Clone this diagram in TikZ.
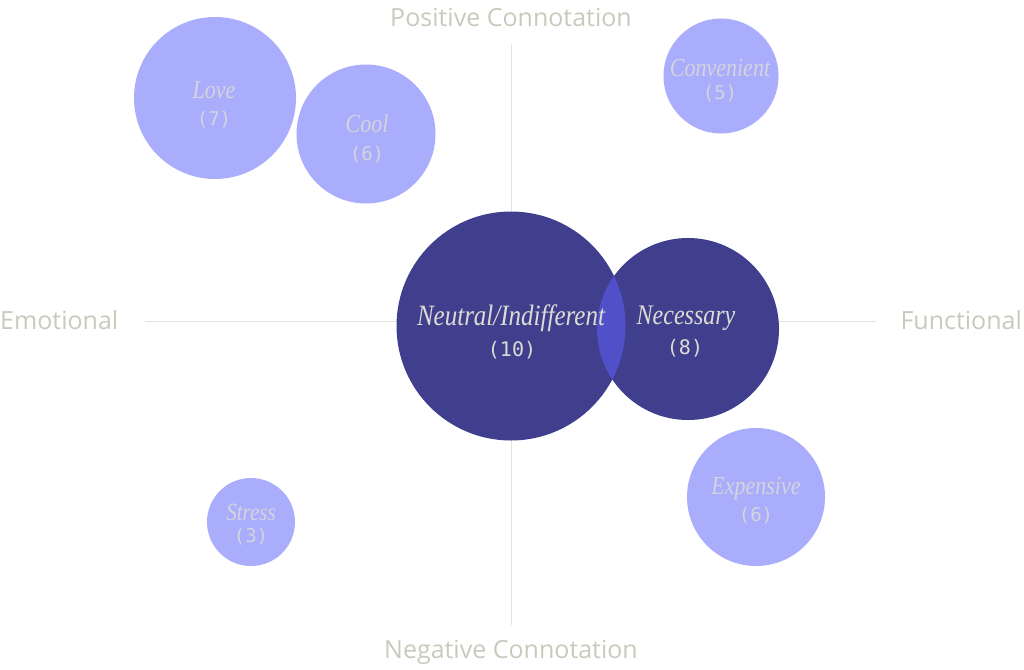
\documentclass[tikz,border=0pt]{standalone}
\usepackage{fontspec}
\setmainfont{Liberation Serif}
\setsansfont{Open Sans}
\setmonofont{DejaVu Sans Mono}
\definecolor{axis}{HTML}{E3E3DE}
\definecolor{axislabel}{HTML}{C9C9BD}
\definecolor{dark}{HTML}{403F8E}
\definecolor{lens}{HTML}{5150C9}
\definecolor{light}{HTML}{AAADFC}
\definecolor{textdark}{HTML}{DCDCD4}
\definecolor{textlight}{HTML}{D4D4DC}
\newcommand{\tall}[1]{\scalebox{1}[1.18]{#1}}
\tikzset{
  bubble/.style={circle, inner sep=0pt, draw=none},
  darkbub/.style={bubble, fill=dark},
  lightbub/.style={bubble, fill=light},
  axisline/.style={draw=axis, line width=1pt},
  axislbl/.style={text=axislabel, font=\sffamily\fontsize{25}{28}\selectfont, inner sep=0pt},
  titlelight/.style={text=textlight, font=\itshape\fontsize{22}{24}\selectfont, inner sep=0pt},
  titledark/.style={text=textdark, font=\itshape\fontsize{25}{28}\selectfont, inner sep=0pt},
  numlight/.style={text=textlight, font=\ttfamily\fontsize{19}{21}\selectfont, inner sep=0pt},
  numdark/.style={text=textdark, font=\ttfamily\fontsize{20}{22}\selectfont, inner sep=0pt},
}
\begin{document}
\begin{tikzpicture}[x=1pt,y=-1pt]
\useasboundingbox (0,0) rectangle (1024,669);
% axes
\coordinate (hl) at (145,321);
\coordinate (hr) at (876,321);
\coordinate (vt) at (511,44);
\coordinate (vb) at (511,625);
\draw[axisline] (hl) -- (hr);
\draw[axisline] (vt) -- (vb);
% axis labels
\node[axislbl] (pos) at (511,17) {Positive Connotation};
\node[axislbl] (neg) at (511,652) {Negative Connotation};
\node[axislbl, anchor=west] (emo) at (0,320) {Emotional};
\node[axislbl, anchor=east] (fun) at (1022,320) {Functional};
% bubbles
\node[lightbub, minimum size=162] (love) at (215,98) {};
\node[lightbub, minimum size=139] (cool) at (366,134) {};
\node[lightbub, minimum size=115] (conv) at (721,76) {};
\node[lightbub, minimum size=138] (exp) at (756,497) {};
\node[lightbub, minimum size=88] (stress) at (251,522) {};
\node[darkbub, minimum size=229] (neut) at (511,326) {};
\node[darkbub, minimum size=182] (nec) at (688,329) {};
\begin{scope}
  \clip (511,326) circle (114.5);
  \fill[lens] (688,329) circle (91);
\end{scope}
% texts
\node[titlelight] (lovet) at (214,90) {\tall{Love}};
\node[numlight] (loven) at (214,120) {(7)};
\node[titlelight] (coolt) at (367,124) {\tall{Cool}};
\node[numlight] (cooln) at (367,155) {(6)};
\node[titlelight] (convt) at (720,68) {\tall{Convenient}};
\node[numlight] (convn) at (720,94) {(5)};
\node[titlelight] (expt) at (756,489) {\tall{Expensive}};
\node[numlight] (expn) at (756,516) {(6)};
\node[titlelight, font=\itshape\fontsize{21}{23}\selectfont] (strt) at (251,512) {\tall{Stress}};
\node[numlight] (strn) at (251,537) {(3)};
\node[titledark] (neutt) at (511,318) {\tall{Neutral/Indifferent}};
\node[numdark] (neutn) at (512,350) {(10)};
\node[titledark, font=\itshape\fontsize{24}{26}\selectfont] (nect) at (686,318) {\tall{Necessary}};
\node[numdark] (necn) at (685,348) {(8)};
\end{tikzpicture}
\end{document}
